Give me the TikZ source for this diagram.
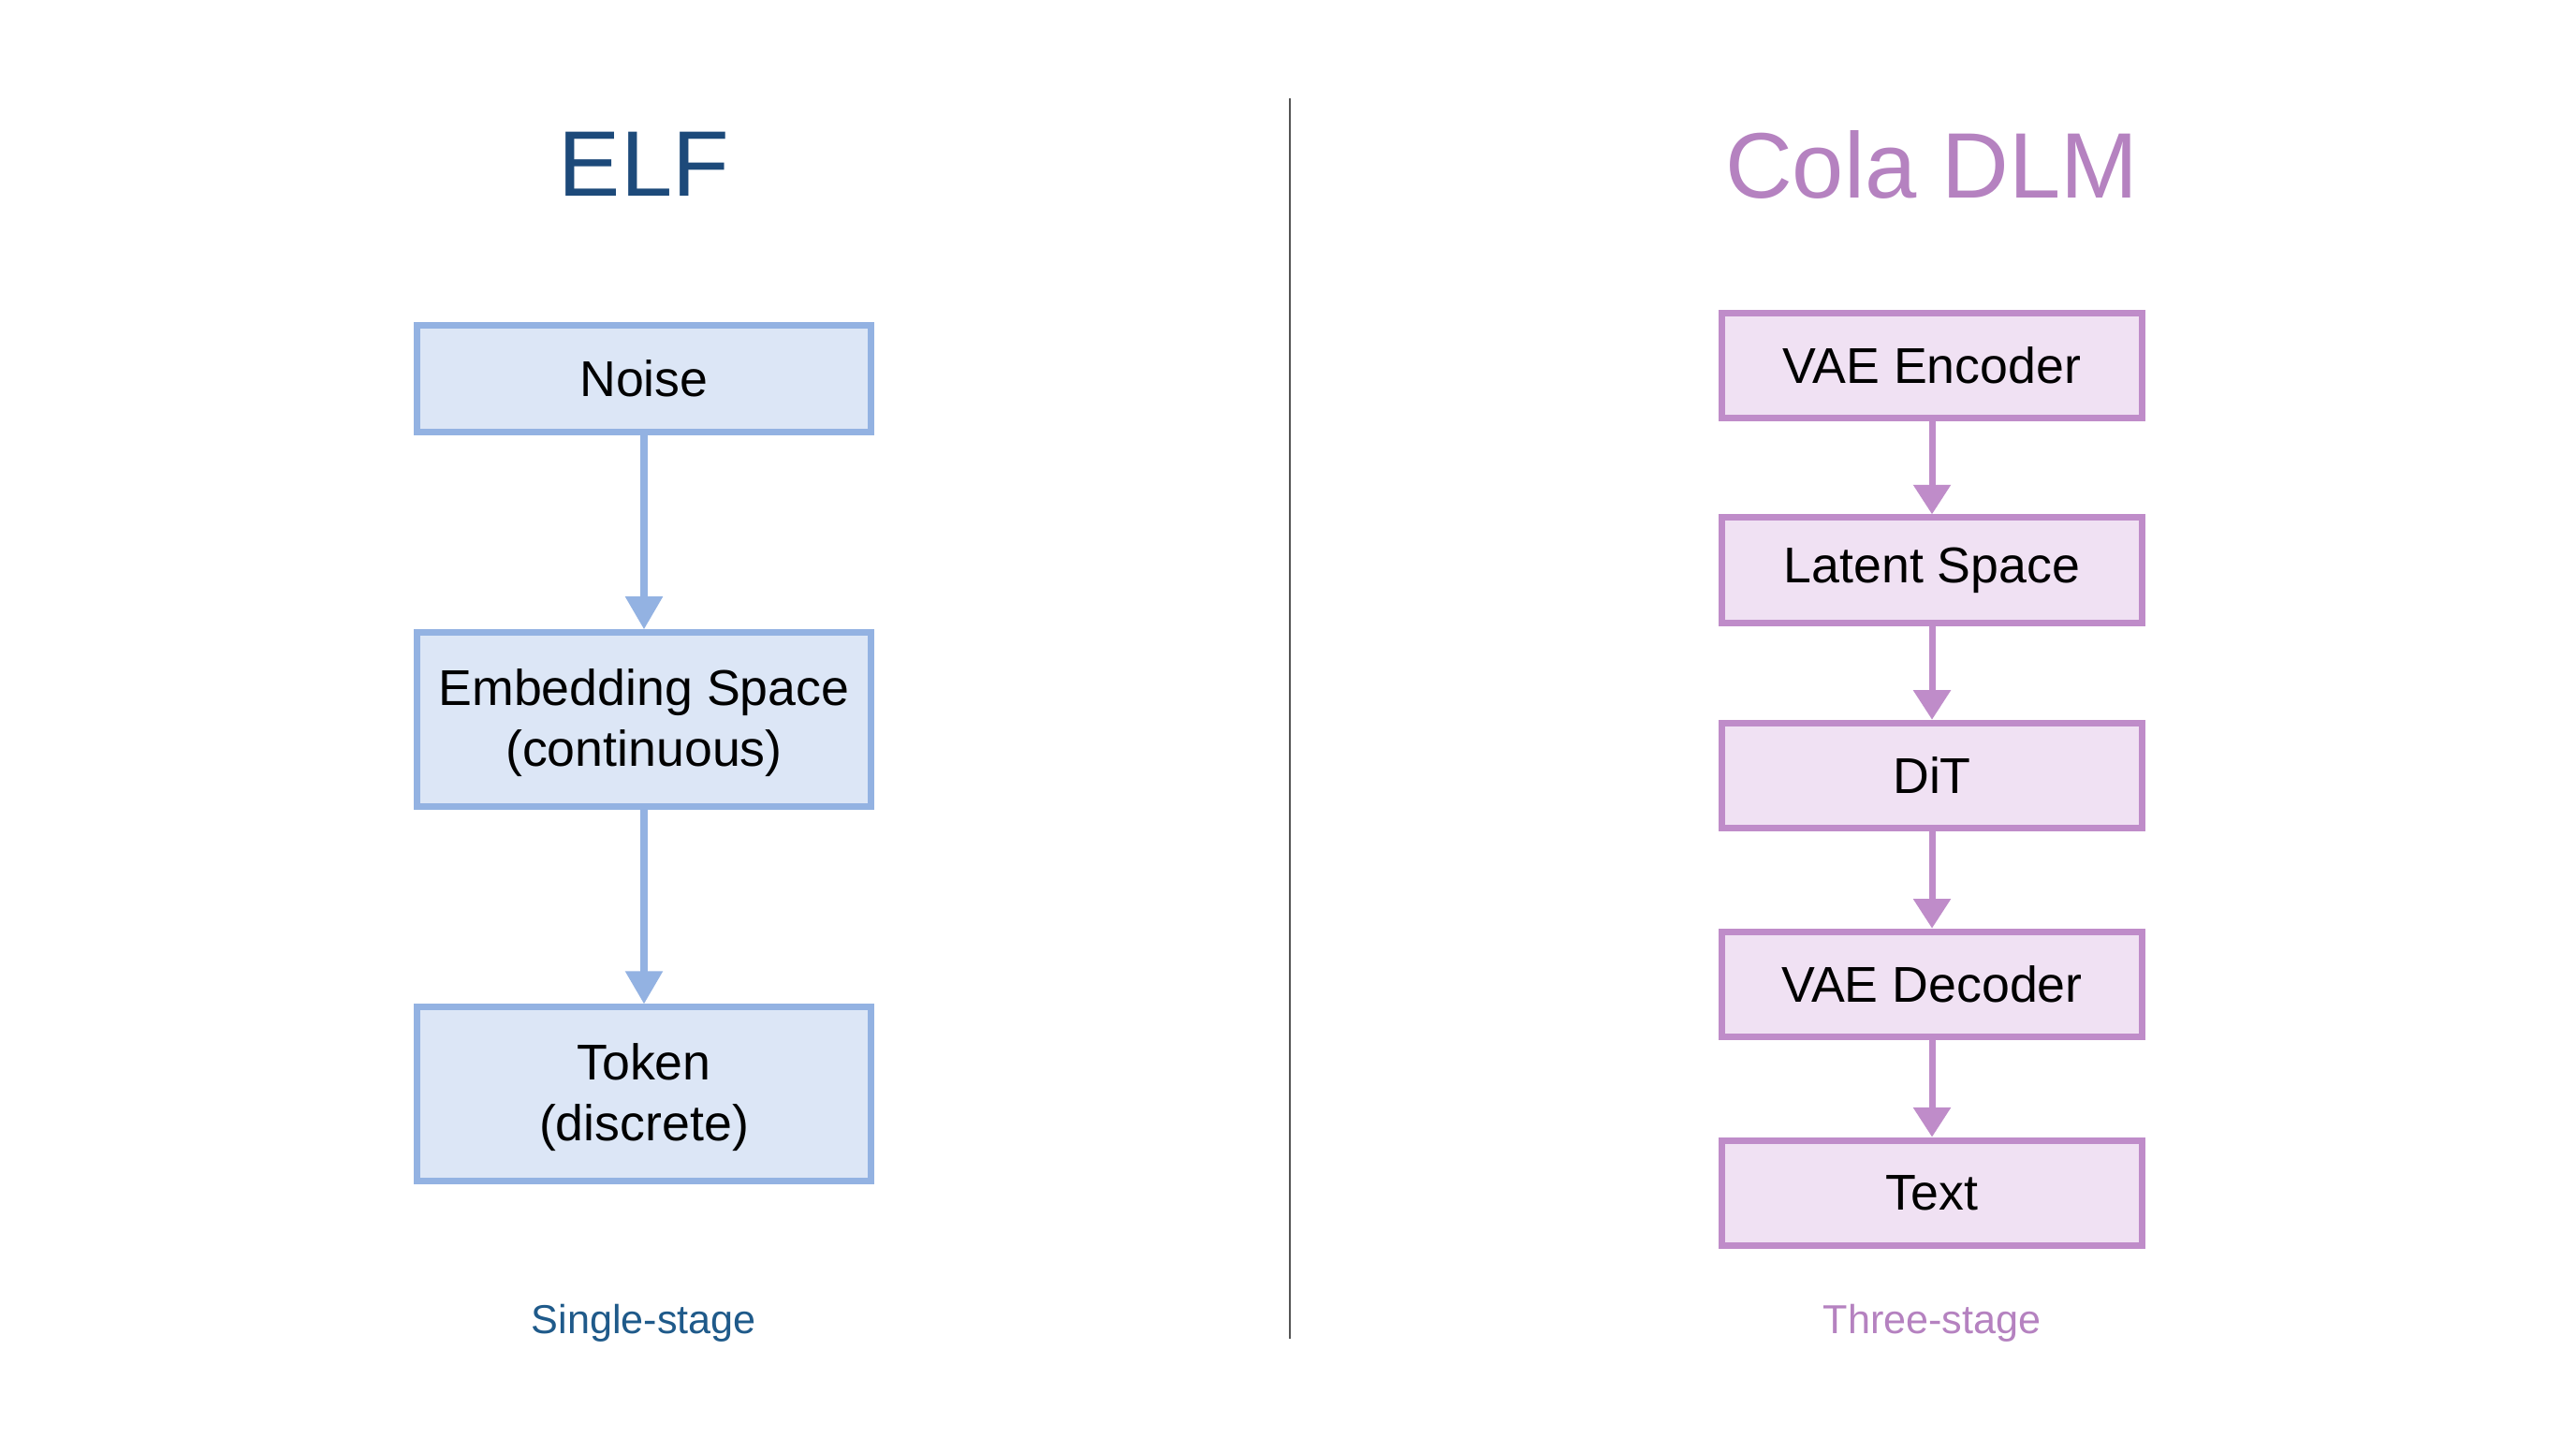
\documentclass[tikz,border=0pt]{standalone}
\usepackage{fontspec}
\setmainfont{Liberation Sans}
\usetikzlibrary{arrows.meta}
\definecolor{elfdark}{HTML}{1D4A7A}
\definecolor{elfsub}{HTML}{1F5A8A}
\definecolor{bluefill}{HTML}{DCE6F6}
\definecolor{blueline}{HTML}{93B2E2}
\definecolor{colatitle}{HTML}{B582C0}
\definecolor{purplefill}{HTML}{F0E1F3}
\definecolor{purpleline}{HTML}{BF8CC9}
\definecolor{divider}{HTML}{555555}
\tikzset{
  bluebox/.style={draw=blueline, fill=bluefill, line width=2pt, minimum width=138pt, inner sep=0pt, align=center, font=\fontsize{15.3}{18.5}\selectfont, text=black},
  purplebox/.style={draw=purpleline, fill=purplefill, line width=2pt, minimum width=128pt, minimum height=32pt, inner sep=0pt, align=center, font=\fontsize{15.3}{18.5}\selectfont, text=black},
  bluearrow/.style={draw=blueline, line width=2pt, -{Triangle[width=11pt,length=10pt]}},
  purplearrow/.style={draw=purpleline, line width=2pt, -{Triangle[width=11pt,length=9pt]}},
  titletext/.style={font=\fontsize{28.3}{33}\selectfont},
  subtext/.style={font=\fontsize{12.3}{15}\selectfont}
}
\begin{document}
\begin{tikzpicture}[x=0.5pt,y=-0.5pt]
\useasboundingbox[fill=white] (0,0) rectangle (1568,875);
% divider
\draw[divider, line width=0.7pt] (785,60) -- (785,815);
% titles
\node[titletext, text=elfdark] (elft) at (392,100) {ELF};
\node[titletext, text=colatitle] (colat) at (1176,100) {Cola DLM};
% left column
\node[bluebox, minimum height=32.5pt] (noise) at (392,230.5) {Noise};
\node[bluebox, minimum height=53pt, text depth=1.5pt] (emb) at (392,438) {Embedding Space\\(continuous)};
\node[bluebox, minimum height=53pt, text depth=1.5pt] (tok) at (392,666) {Token\\(discrete)};
\draw[bluearrow] (noise.south) -- (emb.north);
\draw[bluearrow] (emb.south) -- (tok.north);
\node[subtext, text=elfsub] (single) at (392,805) {Single-stage};
% right column
\node[purplebox] (enc) at (1176,222.5) {VAE Encoder};
\node[purplebox] (lat) at (1176,347) {Latent Space};
\node[purplebox] (dit) at (1176,472) {DiT};
\node[purplebox] (dec) at (1176,599) {VAE Decoder};
\node[purplebox] (txt) at (1176,726) {Text};
\draw[purplearrow] (enc.south) -- (lat.north);
\draw[purplearrow] (lat.south) -- (dit.north);
\draw[purplearrow] (dit.south) -- (dec.north);
\draw[purplearrow] (dec.south) -- (txt.north);
\node[subtext, text=colatitle] (three) at (1176,805) {Three-stage};
\end{tikzpicture}
\end{document}
